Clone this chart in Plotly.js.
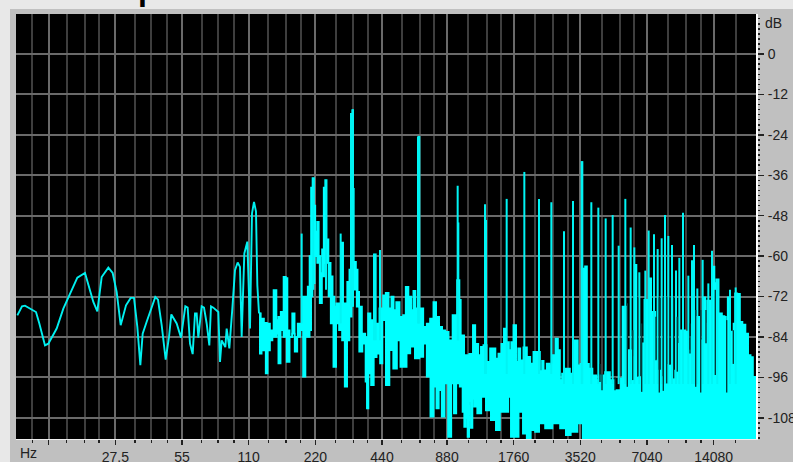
<!DOCTYPE html>
<html>
<head>
<meta charset="utf-8">
<script src="https://cdn.plot.ly/plotly-3.0.1.min.js"></script>
<style>
html,body{margin:0;padding:0;width:793px;height:462px;overflow:hidden;background:#e8e8e8}
#panel{position:absolute;left:10px;top:9px;width:783px;height:453px;background:#c0c0c0}
#chart{position:absolute;left:0;top:0;width:793px;height:462px}
</style>
</head>
<body>
<div id="panel"></div>
<div id="chart"></div>
<script>
// Frequency is held as log-frequency bins: 200 bins per octave above 13.75 Hz.
const BASE_HZ = 13.75, BINS_PER_OCTAVE = 200;

const majorTickBins = [0,200,400,600,800,1000,1195,1395,1595,1795,1995];
const majorTickText = ["","27.5","55","110","220","440","880","1760","3520","7040","14080"];
const minorTickBins = [-49,54,108,151,259,308,356,459,508,556,659,712,756,861,914,957,1059,1114,1157,1259,1314,1357,1459,1514,1557,1659,1714,1757,1859,1912,1957,2061];
const dbTicks = [0,-12,-24,-36,-48,-60,-72,-84,-96,-108];

// Low-frequency single line
const lineBin = [-94,-80,-71,-56,-38,-28,-11,-1,24,44,64,86,109,119,134,146,159,179,192,204,216,232,246,256,266,275,282,294,320,328,339,351,361,368,384,397,410,417,424,432,439,444,449,459,466,474,482,487,494,509,514,519,530,534,542,551,559,567,574,579,587,596,604,610,616,622,626,631];
const lineDb = [-77.6,-74.9,-74.7,-75.6,-76.6,-80,-86.5,-86,-81.5,-75.6,-71.1,-66.4,-65,-68.6,-73.6,-76.4,-66.2,-63.4,-65,-70.6,-80.5,-74.6,-72.4,-72.4,-81,-92.4,-83,-79.5,-72.1,-72.9,-80.5,-90.7,-84,-77.3,-80,-84.2,-74.9,-75.3,-86,-89.1,-77,-77,-84.2,-74.9,-75.3,-80,-86.5,-74.9,-75.3,-76.6,-91.4,-85,-87,-81.5,-87.4,-75.6,-64.2,-61.9,-63.2,-84,-59.2,-55.7,-81.5,-47.3,-43.9,-46.8,-68.6,-77];

// Upper edge of the dense band / noise floor
const upperBin = [631,642,650,660,668,681,686,692,700,709,714,719,727,734,742,752,767,774,780,785,789,794,798,802,809,812,817,823,827,832,836,843,849,855,860,866,872,881,886,892,899,905,912,919,925,929,934,946,954,962,969,984,1000,1006,1016,1024,1032,1038,1047,1059,1067,1075,1084,1091,1097,1104,1119,1129,1139,1149,1159,1166,1177,1184,1196,1204,1219,1231,1234,1239,1254,1269,1276,1284,1294,1299,1309,1319,1329,1337,1344,1354,1362,1369,1376,1386,1389,1399,1406,1411,1419,1429,1441,1449,1459,1469,1479,1481,1489,1499,1509,1516,1524,1532,1536,1544,1559,1569,1584,1591,1600,1606,1612,1618,1624,1639,1649,1659,1679,1689,1704,1714,1719,1724,1732,1736,1742,1750,1754,1762,1765,1778,1784,1790,1796,1805,1810,1818,1822,1830,1844,1864,1875,1886,1892,1896,1906,1914,1924,1930,1936,1941,1946,1952,1956,1962,1968,1972,1979,1990,1995,2000,2006,2014,2026,2029,2034,2040,2047,2052,2057,2061,2071,2077,2086,2095,2102,2110,2116,2122];
const upperDb = [-77,-78.5,-79.8,-80,-82,-70.1,-79,-78,-76.5,-66.1,-66.5,-82,-84,-77,-84,-80,-72,-72,-69,-60,-39.6,-36.8,-45,-52.7,-49.8,-60,-65,-58,-39.6,-37.4,-55,-62,-66,-72,-75,-74,-74,-56,-74,-74,-67.6,-64,-40,-61.7,-64,-70.6,-75,-83,-84,-77,-79,-80,-75.5,-71.6,-70.9,-75.5,-72,-76,-73.6,-78,-77.5,-69.1,-72,-76,-70.3,-75.5,-75.5,-81,-80,-78.5,-73.6,-78,-81,-82,-82.5,-85,-77.5,-67.1,-73,-83.5,-89.4,-89,-80.5,-86,-89.4,-86.9,-86.4,-91.4,-87.4,-87.4,-90.4,-88.9,-86,-81.5,-85.5,-87.9,-85.5,-80.5,-91.4,-87.4,-90.9,-87.1,-89.9,-91.9,-88.4,-88.4,-94.1,-91.1,-93.9,-91.9,-92.4,-89.4,-84.5,-87.9,-96.8,-94.9,-93.4,-94.9,-85,-92.4,-92,-63.7,-63,-92,-93.4,-95.4,-96.8,-95.4,-94.4,-96.8,-99.8,-99.8,-96.3,-75,-75,-95,-87.9,-88,-90,-62.6,-95.8,-96,-85.9,-73,-73,-66.6,-76.5,-76.5,-90.9,-94,-96,-92.3,-94,-94,-86,-82,-82,-82.4,-88,-84,-85,-85,-78,-78,-90,-85,-72.2,-80,-73.2,-73.2,-63.1,-68,-66.9,-77,-77.8,-78,-80,-72.2,-82.4,-82.4,-80,-71,-71.2,-79.5,-80.3,-83,-89.4,-90,-95.8,-95.8];

// Lower edge of the dense band / noise floor
const lowerBin = [631,636,642,648,654,660,668,675,681,686,692,700,709,719,727,734,742,750,759,767,774,780,786,789,794,802,809,817,823,830,836,843,849,859,866,876,884,892,899,906,912,919,929,934,949,952,957,962,972,979,989,999,1004,1019,1026,1041,1049,1061,1069,1079,1091,1106,1119,1129,1139,1151,1159,1167,1174,1184,1192,1204,1212,1219,1227,1239,1244,1249,1254,1259,1264,1269,1274,1279,1292,1304,1319,1334,1349,1359,1374,1384,1389,1404,1416,1429,1439,1454,1464,1479,1499,1524,1544,1559,1574,1599,1605,2122];
const lowerDb = [-77,-89,-88,-88,-94.8,-88,-85,-84,-84,-83,-91.9,-82,-84,-91.4,-84,-83,-88.4,-84,-82,-95.8,-84,-84,-82,-72,-68,-60,-62,-74,-66,-62,-62,-72,-80,-92.9,-80,-82,-85,-98.8,-85,-78,-68,-70,-75,-88.4,-86,-97.3,-105.2,-94.8,-98.3,-90,-89,-91.9,-79,-98.3,-87.9,-93.4,-85,-92.9,-92.9,-88.9,-86.9,-90.4,-89.9,-86,-95.8,-107.7,-98.8,-105.2,-99.8,-107.7,-97.8,-113.7,-97.8,-106.7,-97.8,-98.8,-106.3,-110.7,-108,-113.7,-103,-111,-102.3,-104.7,-106.7,-101.8,-105.8,-108.7,-111.7,-106.3,-106.3,-101.8,-113.7,-113.7,-106.3,-112.7,-114.3,-111.7,-112.2,-109.7,-111.2,-109.7,-111.2,-113.2,-112.2,-109.7,-114.3,-114.3];

// Tall harmonic spikes
const spikeBin = [759,794,832,876,907,911,913,976,981,994,1108,1110,1112,1227,1229,1309,1312,1374,1427,1471,1508,1546,1573,1599,1601,1628,1649,1671,1692,1710,1730,1746,1757,1772,1790,1800,1816,1827,1839,1849,1859,1870,1882,1892,1903,1919,1930,1936,1946,1962,1979,1990,2006,2044,2061];
const spikeTop = [-53.3,-36.8,-37.4,-53.3,-17.5,-16.4,-16.4,-59.2,-59.2,-58.2,-24.5,-24.3,-24.3,-39.1,-50,-44.6,-49.3,-43,-35,-43,-44,-52.6,-43.6,-31.8,-31.8,-44,-45.6,-48.8,-47.8,-56.9,-43,-51.5,-57.4,-64.8,-64.3,-52.4,-53.5,-57.9,-54.7,-47.8,-54,-56.7,-64.3,-60.5,-47.1,-65.8,-61.2,-56.7,-69.6,-61.1,-68.1,-58.4,-66.9,-70,-69.3];
const spikeBase = [-80,-70,-70,-80,-75,-75,-75,-85,-85,-85,-80,-80,-80,-85,-85,-95,-95,-95,-95,-95,-95,-98,-98,-98,-98,-98,-98,-98,-98,-98,-98,-98,-98,-98,-98,-98,-98,-98,-98,-98,-98,-98,-98,-98,-98,-98,-98,-98,-98,-98,-98,-98,-98,-98,-98];

// Narrow dark gaps between harmonics
const gapBin = [1654,1660,1699,1736,1752,1767,1779,1822,1832,1844,1854,1864,1875,1886,1924,1941,1956,1972,2000,2034,2054];
const gapTop = [-92,-95,-96,-74,-82,-72,-80,-78,-72,-72,-72,-72,-72,-78,-80,-76,-76,-76,-70,-79,-82];
const gapBottom = [-97.4,-99.8,-99.8,-98.8,-96.8,-95.8,-100.3,-90.9,-100.5,-100,-97.8,-92.3,-96.3,-94.3,-88.9,-98.8,-100.5,-85.9,-95.3,-100.5,-92];

const hz = b => BASE_HZ * Math.pow(2, b / BINS_PER_OCTAVE);
const stems = (bins, a, b) => {
  const x = [], y = [];
  bins.forEach((v, i) => { x.push(hz(v), hz(v), null); y.push(a[i], b[i], null); });
  return {x, y};
};
const CYAN = '#00ffff';
const spikes = stems(spikeBin, spikeBase, spikeTop);
const gaps = stems(gapBin, gapTop, gapBottom);

const traces = [
  {x: lowerBin.map(hz), y: lowerDb, mode: 'lines', line: {color: CYAN, width: 1.6, shape: 'hvh'}, hoverinfo: 'skip'},
  {x: upperBin.map(hz), y: upperDb, mode: 'lines', line: {color: CYAN, width: 1.6, shape: 'hvh'}, fill: 'tonexty', fillcolor: CYAN, hoverinfo: 'skip'},
  {x: lineBin.map(hz), y: lineDb, mode: 'lines', line: {color: '#00f0f0', width: 1.9}, hoverinfo: 'skip'},
  {x: spikes.x, y: spikes.y, mode: 'lines', line: {color: '#00f4f4', width: 2}, hoverinfo: 'skip'},
  {x: gaps.x, y: gaps.y, mode: 'lines', line: {color: '#053a3a', width: 1.4}, hoverinfo: 'skip'}
];

const labelFont = {family: 'Liberation Sans, Arial, sans-serif', size: 14, color: '#222'};
const layout = {
  width: 793, height: 462, showlegend: false,
  margin: {l: 16, r: 37, t: 14, b: 23, pad: 0},
  paper_bgcolor: 'rgba(0,0,0,0)', plot_bgcolor: '#000',
  xaxis: {
    type: 'log', range: [Math.log10(hz(-98)), Math.log10(hz(2122))],
    tickmode: 'array', tickvals: majorTickBins.map(hz), ticktext: majorTickText,
    ticks: 'outside', ticklen: 5, tickwidth: 1.5, tickcolor: '#222',
    showgrid: true, gridcolor: '#6a6a6a', gridwidth: 2,
    tickfont: labelFont, ticklabelstandoff: 0,
    showline: true, linecolor: '#eeeeee', linewidth: 1, zeroline: false,
    minor: {tickmode: 'array', tickvals: minorTickBins.map(hz), ticks: 'outside', ticklen: 3, tickwidth: 1.5, tickcolor: '#222', showgrid: true, gridcolor: '#3e3e3e', gridwidth: 2}
  },
  yaxis: {
    side: 'right', range: [-114.3, 11.9],
    tickmode: 'array', tickvals: dbTicks, ticktext: dbTicks.map(String),
    ticks: 'outside', ticklen: 6, tickwidth: 1.5, tickcolor: '#222',
    showgrid: true, gridcolor: '#6a6a6a', gridwidth: 2,
    tickfont: labelFont, ticklabelstandoff: 1,
    showline: true, linecolor: '#ffffff', linewidth: 2, zeroline: false,
    minor: {dtick: 1.5, ticks: 'outside', ticklen: 2, tickwidth: 1.5, tickcolor: '#222', showgrid: false}
  },
  annotations: [
    {text: 'Hz', xref: 'paper', yref: 'paper', x: (28 - 16) / 740, y: -(444 - 439) / 425, xanchor: 'center', yanchor: 'top', showarrow: false, font: labelFont, borderpad: 0},
    {text: 'dB', xref: 'paper', yref: 'paper', x: (764 - 16) / 740, y: 1, xanchor: 'left', yanchor: 'top', showarrow: false, font: labelFont, borderpad: 0},
    {text: 'p', xref: 'paper', yref: 'paper', x: (148 - 16) / 740, y: 1 + (14 - 8) / 425, xanchor: 'center', yanchor: 'bottom', showarrow: false, font: {family: 'Liberation Sans, Arial, sans-serif', size: 32, color: '#000', weight: 700}, borderpad: 0}
  ]
};
Plotly.newPlot('chart', traces, layout, {displayModeBar: false, staticPlot: true});
</script>
</body>
</html>
